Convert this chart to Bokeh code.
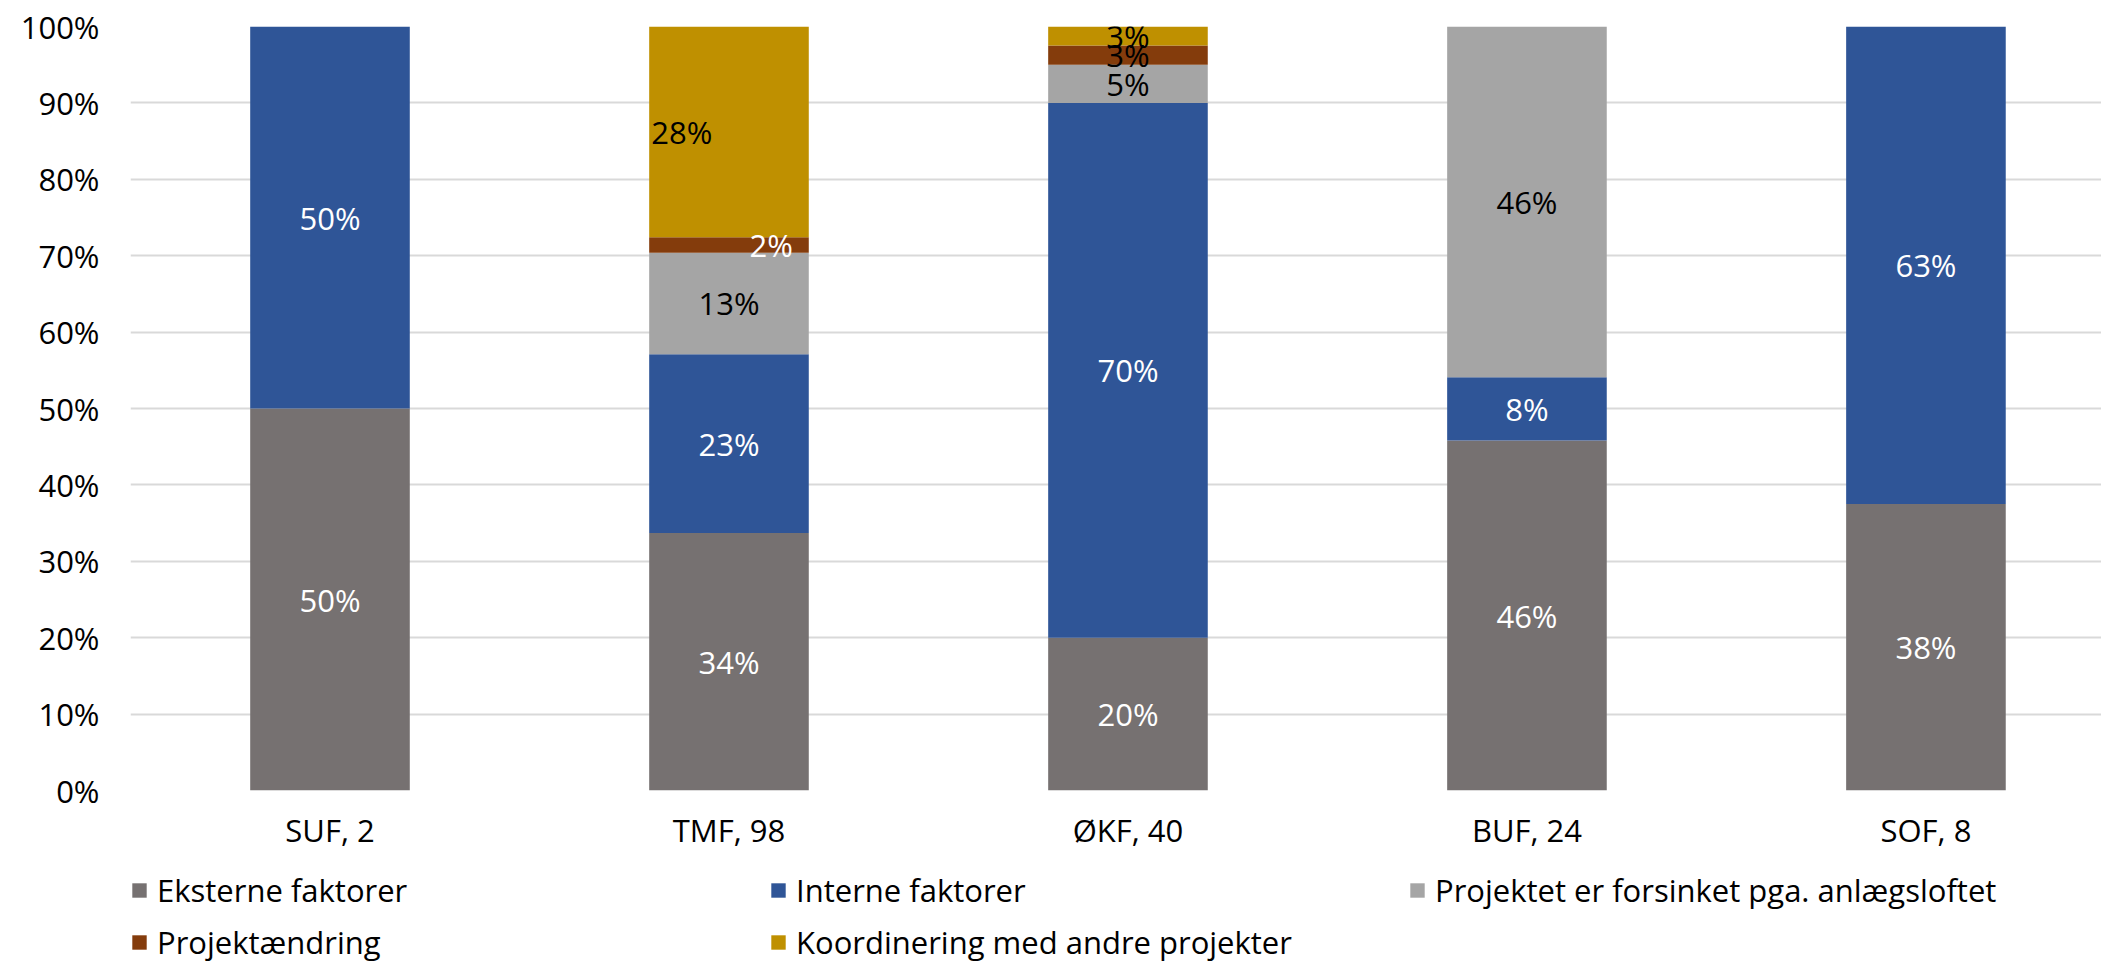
import math
from bokeh.plotting import figure
from bokeh.layouts import column
from bokeh.models import (ColumnDataSource, Range1d, FixedTicker, PrintfTickFormatter,
                          Legend, LegendItem)
from bokeh.core.properties import value
from bokeh.embed import file_html
from bokeh.resources import INLINE

# ---------------- data ----------------
categories = ["SUF, 2", "TMF, 98", "ØKF, 40", "BUF, 24", "SOF, 8"]
series = ["Eksterne faktorer", "Interne faktorer",
          "Projektet er forsinket pga. anlægsloftet", "Projektændring",
          "Koordinering med andre projekter"]
eksterne = [50.0, 33.7, 20.0, 45.8, 37.5]
interne = [50.0, 23.4, 70.0, 8.3, 62.5]
anlaegsloft = [0.0, 13.3, 5.0, 45.9, 0.0]
aendring = [0.0, 2.0, 2.5, 0.0, 0.0]
koordinering = [0.0, 27.6, 2.5, 0.0, 0.0]
y_ticks = [0, 10, 20, 30, 40, 50, 60, 70, 80, 90, 100]

# ---------------- styles ----------------
FONT = "Open Sans"
FS = "31px"
LEG_FS = "31px"
colors = ["#767171", "#2F5597", "#A5A5A5", "#843C0C", "#BF9000"]
label_colors = ["white", "white", "black", "black", "black"]
# (category index, series index) -> (align, x shift in bar widths, px offset, color)
label_overrides = {
    (1, 4): ("left", -0.5, 2, "black"),
    (1, 3): ("right", 0.5, -16, "white"),
}
BAR_W = 0.4
W = 2101
MAIN_H = 855
LEG_H = 109

values = [eksterne, interne, anlaegsloft, aendring, koordinering]
keys = ["s0", "s1", "s2", "s3", "s4"]
xs = list(range(len(categories)))
data = {"x": xs}
for k, v in zip(keys, values):
    data[k] = v
source = ColumnDataSource(data)

p = figure(width=W, height=MAIN_H, x_range=Range1d(-0.5, 4.44), y_range=Range1d(0, 100),
           output_backend="svg", toolbar_location=None,
           min_border_left=130, min_border_right=0, min_border_top=26,
           min_border_bottom=MAIN_H - 26 - 764)
p.outline_line_color = None
p.background_fill_color = "white"

renderers = p.vbar_stack(keys, x="x", width=BAR_W, color=colors, line_color=None, source=source)

# labels
lx, ly, lt, la, lc, lo = [], [], [], [], [], []
for ci in xs:
    bottom = 0.0
    for si, v in enumerate(values):
        val = v[ci]
        if val > 0:
            txt = "%d%%" % math.floor(val + 0.5)
            align, shift, off, col = label_overrides.get((ci, si), ("center", 0.0, 0, label_colors[si]))
            lx.append(ci + shift * BAR_W)
            ly.append(bottom + val / 2.0)
            lt.append(txt)
            la.append(align)
            lc.append(col)
            lo.append(off)
        bottom += val
lsrc = ColumnDataSource(dict(x=lx, y=ly, text=lt, align=la, color=lc, off=lo))
p.text(x="x", y="y", text="text", text_align="align", text_baseline="middle",
       text_color="color", x_offset="off", text_font=value(FONT), text_font_size=FS,
       source=lsrc)

# axes
p.xaxis.ticker = FixedTicker(ticks=xs)
p.xaxis.major_label_overrides = {i: c for i, c in enumerate(categories)}
p.yaxis.ticker = FixedTicker(ticks=y_ticks)
p.yaxis.formatter = PrintfTickFormatter(format="%d%%")
for ax in (p.xaxis[0], p.yaxis[0]):
    ax.axis_line_color = None
    ax.major_tick_line_color = None
    ax.minor_tick_line_color = None
    ax.major_tick_out = 0
    ax.major_tick_in = 0
    ax.major_label_text_font = FONT
    ax.major_label_text_font_size = FS
    ax.major_label_text_color = "black"
p.xaxis.major_label_standoff = 18
p.yaxis.major_label_standoff = 31

p.xgrid.grid_line_color = None
p.ygrid.ticker = FixedTicker(ticks=y_ticks)
p.ygrid.grid_line_color = "#D9D9D9"
p.ygrid.grid_line_width = 2

# legend strip below the chart: same stacked series, kept out of its view range
pl = figure(width=W, height=LEG_H, x_range=Range1d(-101, -100), y_range=Range1d(1000, 1001),
            output_backend="svg", toolbar_location=None,
            x_axis_location=None, y_axis_location=None,
            min_border_left=129, min_border_right=0, min_border_top=14, min_border_bottom=0)
pl.xgrid.visible = False
pl.ygrid.visible = False
pl.outline_line_color = None
leg_renderers = pl.vbar_stack(keys, x="x", width=BAR_W, color=colors, line_color=None,
                              source=source)
legend = Legend(items=[LegendItem(label=s, renderers=[r]) for s, r in zip(series, leg_renderers)],
                location="top_left", orientation="horizontal", ncols=3,
                glyph_width=18, glyph_height=18, label_standoff=9, label_width=602,
                spacing=10, padding=0, margin=0,
                label_text_font=FONT, label_text_font_size=LEG_FS, label_text_color="black",
                border_line_color=None, background_fill_alpha=0)
pl.add_layout(legend)

open("out.html", "w").write(file_html(column(p, pl, spacing=0), INLINE))
